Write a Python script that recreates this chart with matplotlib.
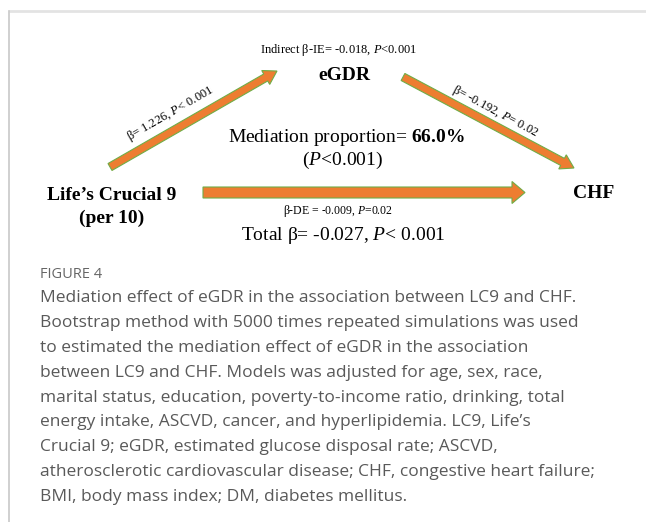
import matplotlib
matplotlib.use('Agg')
import matplotlib.pyplot as plt
from matplotlib.patches import FancyArrow

# ---- diagram content ----
exposure = ['Life\u2019s Crucial 9', '(per 10)']
mediator = 'eGDR'
outcome = 'CHF'
path_a = (1.226, '< 0.001')
path_b = (-0.192, '= 0.02')
indirect = (-0.018, '<0.001')
direct = (-0.009, '=0.02')
total = (-0.027, '< 0.001')
proportion = 66.0

caption_title = 'FIGURE 4'
caption_lines = [
    'Mediation effect of eGDR in the association between LC9 and CHF.',
    'Bootstrap method with 5000 times repeated simulations was used',
    'to estimated the mediation effect of eGDR in the association',
    'between LC9 and CHF. Models was adjusted for age, sex, race,',
    'marital status, education, poverty-to-income ratio, drinking, total',
    'energy intake, ASCVD, cancer, and hyperlipidemia. LC9, Life\u2019s',
    'Crucial 9; eGDR, estimated glucose disposal rate; ASCVD,',
    'atherosclerotic cardiovascular disease; CHF, congestive heart failure;',
    'BMI, body mass index; DM, diabetes mellitus.',
]

plt.rcParams['mathtext.fontset'] = 'custom'
plt.rcParams['mathtext.rm'] = 'Liberation Serif'
plt.rcParams['mathtext.it'] = 'Liberation Serif:italic'
plt.rcParams['mathtext.bf'] = 'Liberation Serif:bold'

SERIF = 'Liberation Serif'
ORANGE = '#ED7D31'
GREEN = '#70AD47'
GREY = '#595959'

fig = plt.figure(figsize=(6.46, 5.22), dpi=100)
ax = fig.add_axes([0, 0, 1, 1])
ax.set_xlim(0, 646)
ax.set_ylim(522, 0)
ax.axis('off')

# frame lines
ax.plot([8.5, 646], [11, 11], color='#e3e3e3', lw=2, solid_capstyle='butt')
ax.plot([9, 9], [11, 522], color='#c8c8c8', lw=1.2)

def arrow(x0, y0, x1, y1, w, hw, hl):
    ax.add_patch(FancyArrow(x0, y0, x1 - x0, y1 - y0, width=w, head_width=hw,
                            head_length=hl, length_includes_head=True,
                            facecolor=ORANGE, edgecolor=GREEN, lw=0.8))

arrow(110, 167, 277, 71, 8, 16, 13)
arrow(403, 77, 574, 168, 8, 16, 13)
arrow(203, 192.5, 525, 192.5, 11, 22, 13)

# node labels
ax.text(112, 195, exposure[0], family=SERIF, weight='bold', fontsize=14,
        ha='center', va='center')
ax.text(112, 218, exposure[1], family=SERIF, weight='bold', fontsize=14,
        ha='center', va='center')
ax.text(344, 75, mediator, family=SERIF, weight='bold', fontsize=14,
        ha='center', va='center')
ax.text(594, 193, outcome, family=SERIF, weight='bold', fontsize=14,
        ha='center', va='center')

# path labels
ax.text(339, 50, f'Indirect \u03b2-IE= {indirect[0]:.3f}, $\\mathit{{P}}${indirect[1]}',
        family=SERIF, fontsize=9, ha='center', va='center')
ax.text(170, 114, f'\u03b2= {path_a[0]:.3f}, $\\mathit{{P}}${path_a[1]}',
        family=SERIF, fontsize=9, ha='center', va='center', rotation=30,
        rotation_mode='anchor')
ax.text(495, 111, f'\u03b2= {path_b[0]:.3f}, $\\mathit{{P}}${path_b[1]}',
        family=SERIF, fontsize=9, ha='center', va='center', rotation=-28,
        rotation_mode='anchor')
ax.text(346, 137, f'Mediation proportion= $\\mathbf{{{proportion:.1f}\\%}}$',
        family=SERIF, fontsize=14, ha='center', va='center')
ax.text(343, 160, '($\\mathit{P}$<0.001)', family=SERIF, fontsize=14,
        ha='center', va='center')
ax.text(338, 211, f'\u03b2-DE = {direct[0]:.3f}, $\\mathit{{P}}${direct[1]}',
        family=SERIF, fontsize=8.5, ha='center', va='center')
ax.text(343, 235, f'Total \u03b2= {total[0]:.3f}, $\\mathit{{P}}${total[1]}',
        family=SERIF, fontsize=14, ha='center', va='center')

# caption
ax.text(40, 275, caption_title, family='Open Sans', fontsize=10.5,
        color='#666666', ha='left', va='center')
for i, line in enumerate(caption_lines):
    ax.text(40, 298 + 24.9 * i, line, family='Open Sans', fontsize=12.5,
            color=GREY, ha='left', va='center')

fig.savefig('out.png', dpi=100)
